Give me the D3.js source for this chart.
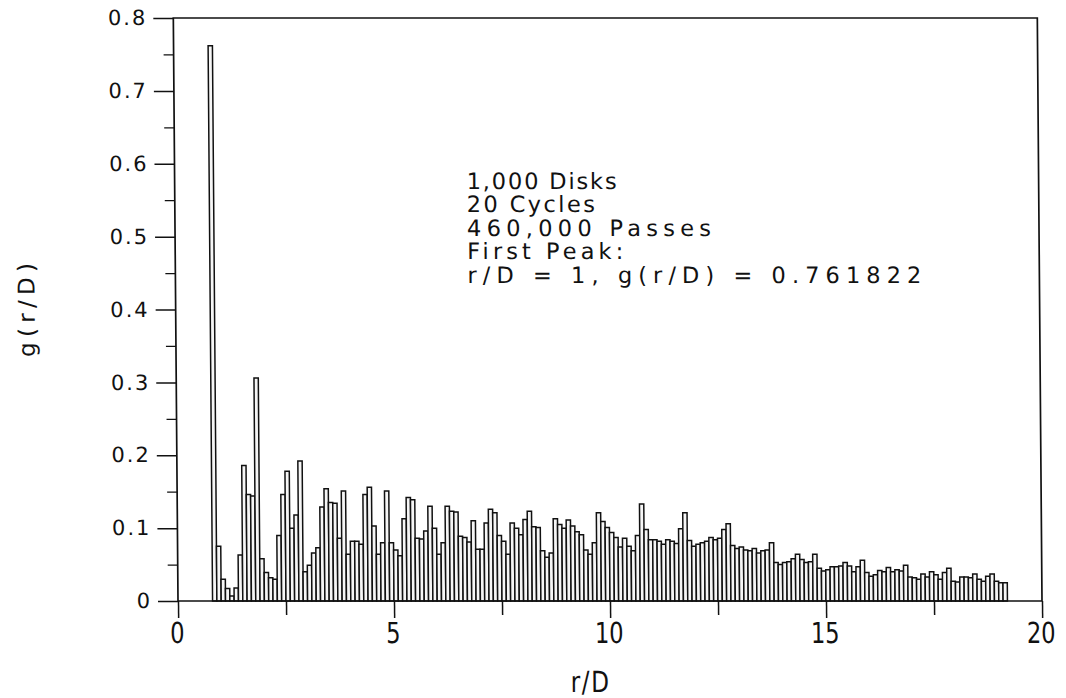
<!DOCTYPE html>
<html>
<head>
<meta charset="utf-8">
<script src="https://cdn.jsdelivr.net/npm/d3@7"></script>
<style>
  html, body { margin: 0; padding: 0; background: #fff; }
  svg { display: block; }
  text { fill: #111; font-family: "DejaVu Sans", "Liberation Sans", sans-serif; }
</style>
</head>
<body>
<svg id="chart" width="1066" height="698"></svg>
<script>
// Radial distribution histogram g(r/D): bins of width 0.1 starting at r/D = 0.8
const binStart = 0.8;
const binWidth = 0.1;
const gValues = [
  0.761822, 0.075, 0.030, 0.017, 0.007, 0.018, 0.063, 0.186, 0.146, 0.144,
  0.306, 0.058, 0.039, 0.032, 0.030, 0.090, 0.146, 0.178, 0.100, 0.118,
  0.192, 0.040, 0.049, 0.066, 0.073, 0.129, 0.154, 0.135, 0.134, 0.086,
  0.151, 0.064, 0.082, 0.082, 0.078, 0.146, 0.156, 0.103, 0.064, 0.080,
  0.151, 0.080, 0.070, 0.062, 0.113, 0.142, 0.139, 0.086, 0.085, 0.096,
  0.130, 0.100, 0.064, 0.080, 0.130, 0.123, 0.122, 0.089, 0.087, 0.081,
  0.110, 0.071, 0.071, 0.107, 0.126, 0.121, 0.090, 0.082, 0.064, 0.107,
  0.100, 0.091, 0.112, 0.123, 0.102, 0.101, 0.069, 0.060, 0.066, 0.113,
  0.105, 0.100, 0.111, 0.103, 0.095, 0.091, 0.070, 0.064, 0.080, 0.121,
  0.109, 0.101, 0.094, 0.087, 0.074, 0.086, 0.075, 0.069, 0.090, 0.133,
  0.098, 0.084, 0.084, 0.082, 0.078, 0.084, 0.082, 0.079, 0.099, 0.121,
  0.083, 0.075, 0.078, 0.080, 0.082, 0.087, 0.084, 0.086, 0.098, 0.106,
  0.076, 0.072, 0.074, 0.070, 0.069, 0.072, 0.066, 0.069, 0.070, 0.080,
  0.053, 0.050, 0.053, 0.054, 0.058, 0.064, 0.057, 0.053, 0.054, 0.064,
  0.045, 0.041, 0.043, 0.047, 0.047, 0.048, 0.053, 0.048, 0.040, 0.047,
  0.056, 0.039, 0.034, 0.036, 0.042, 0.040, 0.046, 0.040, 0.043, 0.041,
  0.049, 0.033, 0.032, 0.030, 0.037, 0.033, 0.040, 0.036, 0.030, 0.039,
  0.045, 0.027, 0.026, 0.033, 0.033, 0.032, 0.037, 0.030, 0.027, 0.034,
  0.037, 0.027, 0.025, 0.025
];

const xTicks = [0, 2.5, 5, 7.5, 10, 12.5, 15, 17.5, 20];
const xTickLabels = ["0", "5", "10", "15", "20"];
const yTicks = [0, 0.1, 0.2, 0.3, 0.4, 0.5, 0.6, 0.7, 0.8];
const yMinorTicks = [0.05, 0.15, 0.25, 0.35, 0.45, 0.55, 0.65, 0.75];
const infoLines = [
  "1,000 Disks",
  "20 Cycles",
  "460,000 Passes",
  "First Peak:",
  "r/D = 1, g(r/D) = 0.761822"
];

const bins = gValues.map((v, i) => ({ r0: binStart + i * binWidth, r1: binStart + (i + 1) * binWidth, v }));

const svg = d3.select("#chart");
const plotL = 178, plotR = 1042, plotT = 18, plotB = 601;

const x = d3.scaleLinear().domain([0, 20]).range([plotL, plotR]);
const y = d3.scaleLinear().domain([0, 0.8]).range([plotB, plotT]);

// the plotted sheet leans slightly: everything above the baseline drifts left
const lean = 0.46;
const g = svg.append("g")
  .attr("transform", `translate(0,${plotB}) skewX(${lean}) translate(0,${-plotB})`);

// histogram bars
g.append("g").selectAll("rect")
  .data(bins)
  .join("rect")
  .attr("x", d => x(d.r0))
  .attr("width", d => x(d.r1) - x(d.r0))
  .attr("y", d => y(d.v))
  .attr("height", d => y(0) - y(d.v))
  .attr("fill", "#f6f6f6")
  .attr("stroke", "#111")
  .attr("stroke-width", 1.5);

// frame
g.append("rect")
  .attr("x", plotL).attr("y", plotT)
  .attr("width", plotR - plotL).attr("height", plotB - plotT)
  .attr("fill", "none").attr("stroke", "#111").attr("stroke-width", 1.7);

// y axis with major and minor ticks
const yAxis = d3.axisLeft(y).tickValues(yTicks).tickSize(20).tickPadding(8);
const ya = g.append("g").attr("transform", `translate(${plotL},0)`).call(yAxis);
ya.select(".domain").remove();
ya.selectAll(".tick line").attr("stroke", "#111").attr("stroke-width", 1.5);
ya.selectAll(".tick text")
  .text(d => d === 0 ? "0" : d3.format(".1f")(d))
  .attr("font-size", 21)
  .attr("letter-spacing", "2px")
  .attr("dx", 2)
  .attr("font-family", "DejaVu Sans, Liberation Sans, sans-serif")
  .attr("fill", "#111");

const yMinor = d3.axisLeft(y).tickValues(yMinorTicks).tickSize(10).tickFormat("");
const ym = g.append("g").attr("transform", `translate(${plotL},0)`).call(yMinor);
ym.select(".domain").remove();
ym.selectAll(".tick line").attr("stroke", "#111").attr("stroke-width", 1.2);

// x axis: ticks every 2.5, labels every 5
const xAxis = d3.axisBottom(x).tickValues(xTicks).tickSize(14).tickFormat("");
const xa = g.append("g").attr("transform", `translate(0,${plotB})`).call(xAxis);
xa.select(".domain").remove();
xa.selectAll(".tick line")
  .attr("stroke", "#111").attr("stroke-width", 1.5)
  .attr("y2", d => d % 5 === 0 ? 17 : 14);

g.append("g").selectAll("text")
  .data(xTickLabels)
  .join("text")
  .attr("transform", d => `translate(${x(+d) - 1},643) scale(0.78,1)`)
  .attr("text-anchor", "middle")
  .attr("font-family", "Liberation Sans, sans-serif")
  .attr("font-size", 29)
  .text(d => d);

// axis titles
g.append("text")
  .attr("transform", `translate(${x(10) - 20},692) scale(0.8,1)`)
  .attr("text-anchor", "middle")
  .attr("font-family", "Liberation Sans, sans-serif")
  .attr("font-size", 29)
  .attr("letter-spacing", "2px")
  .text("r/D");

g.append("text")
  .attr("transform", "translate(37,310) rotate(-90)")
  .attr("text-anchor", "middle")
  .attr("font-size", 23)
  .attr("textLength", 94)
  .attr("lengthAdjust", "spacing")
  .text("g(r/D)");

// run annotation
const infoWidths = [150, 128, 244, 156, 454];
g.append("g").selectAll("text")
  .data(infoLines)
  .join("text")
  .attr("x", 470)
  .attr("y", (d, i) => 189 + i * 23.5)
  .attr("font-size", 22.5)
  .attr("textLength", (d, i) => infoWidths[i])
  .attr("lengthAdjust", "spacing")
  .text(d => d);
</script>
</body>
</html>
